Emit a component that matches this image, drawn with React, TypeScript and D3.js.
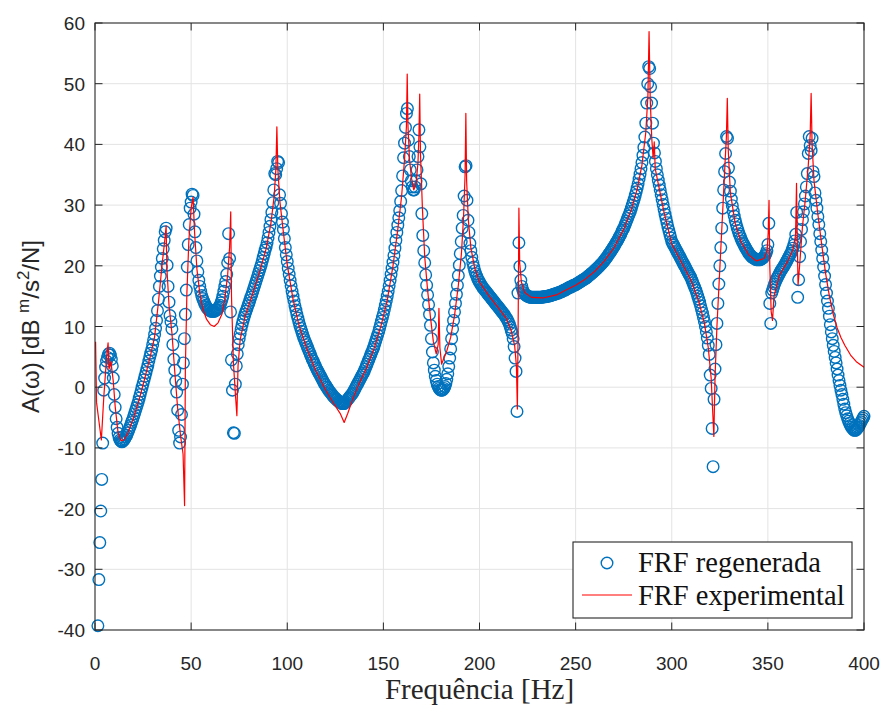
import { useEffect, useRef } from 'react';
import * as d3 from 'd3';

// eixos
const xTicks = [0, 50, 100, 150, 200, 250, 300, 350, 400];
const yTicks = [-40, -30, -20, -10, 0, 10, 20, 30, 40, 50, 60];

// FRF regenerada: amostras a cada 0.5 Hz a partir de 0 Hz (null = fora do gráfico)
const regenStartHz = 0;
const regenStepHz = 0.5;
const regenDb: (number | null)[] = [
  null, null, null, -39.3, -31.7, -25.6, -20.4, -15.2, -9.2, -0.5, 1.5, 3.3, 4.3, 4.9, 5.4, 5.6, 5.3, 4.6, 3.5, 1.5,
  -1.2, -3.3, -5.2, -6.6, -7.6, -8.3, -8.7, -8.9, -9.0, -8.9, -8.7, -8.5, -8.2, -7.9, -7.5, -7.1, -6.7, -6.3, -5.8, -5.4,
  -4.9, -4.4, -3.9, -3.4, -2.9, -2.4, -1.8, -1.2, -0.6, 0.0, 0.6, 1.2, 1.8, 2.4, 3.0, 3.6, 4.3, 5.0, 5.6, 6.2,
  7.0, 7.8, 8.7, 9.7, 11.0, 12.6, 14.5, 16.6, 18.3, 19.8, 21.2, 22.8, 24.2, 25.6, 26.2, 20.1, 16.6, 14.0, 11.8, 10.8,
  9.6, 7.0, 4.6, 2.8, 1.0, -0.8, -3.8, -7.1, -9.2, -8.2, -4.5, 0.5, 4.0, 8.0, 12.0, 16.0, 19.8, 23.5, 26.8, 29.5,
  30.5, 31.8, 31.6, 28.5, 25.6, 23.0, 20.8, 19.0, 17.6, 16.6, 15.8, 15.1, 14.6, 14.2, 13.8, 13.5, 13.2, 13.0, 12.8, 12.7,
  12.6, 12.5, 12.5, 12.5, 12.5, 12.6, 12.7, 12.8, 13.0, 13.2, 13.5, 13.9, 14.4, 15.0, 15.8, 16.6, 17.4, 18.6, 20.5, 25.3,
  21.2, 12.4, 4.5, -0.5, -7.5, -7.6, 0.5, 3.5, 5.5, 7.0, 8.0, 8.8, 9.6, 10.3, 10.9, 11.5, 12.0, 12.5, 12.9, 13.4,
  13.8, 14.3, 14.8, 15.2, 15.7, 16.2, 16.7, 17.2, 17.7, 18.2, 18.7, 19.2, 19.7, 20.2, 20.8, 21.4, 22.0, 22.6, 23.1, 23.8,
  24.6, 25.5, 26.5, 27.6, 28.8, 30.4, 32.5, 35.2, 35.0, 36.0, 37.2, 37.0, 31.7, 30.3, 28.6, 27.2, 26.0, 24.5, 23.0, 21.8,
  20.7, 19.6, 18.6, 17.6, 16.7, 15.8, 15.0, 14.2, 13.4, 12.7, 12.0, 11.4, 10.8, 10.2, 9.7, 9.2, 8.7, 8.2, 7.8, 7.4,
  7.0, 6.6, 6.2, 5.8, 5.4, 5.0, 4.6, 4.3, 3.9, 3.6, 3.2, 2.9, 2.6, 2.3, 2.0, 1.7, 1.4, 1.1, 0.8, 0.5,
  0.3, 0.0, -0.2, -0.5, -0.7, -0.9, -1.1, -1.3, -1.5, -1.7, -1.8, -2.0, -2.1, -2.3, -2.4, -2.5, -2.6, -2.7, -2.7, -2.7,
  -2.6, -2.4, -2.2, -2.0, -1.8, -1.6, -1.4, -1.2, -1.0, -0.7, -0.4, -0.1, 0.2, 0.5, 0.8, 1.1, 1.4, 1.7, 2.0, 2.3,
  2.6, 3.0, 3.4, 3.8, 4.2, 4.6, 5.0, 5.4, 5.8, 6.2, 6.6, 7.1, 7.6, 8.1, 8.6, 9.1, 9.7, 10.3, 10.9, 11.5,
  12.1, 12.8, 13.5, 14.2, 15.0, 15.8, 16.7, 17.6, 18.6, 19.6, 20.6, 21.7, 22.9, 24.2, 25.5, 26.7, 27.9, 29.1, 30.6, 32.4,
  34.8, 37.8, 40.2, 42.8, 45.1, 45.9, 40.7, 38.0, 35.8, 34.0, 33.0, 32.5, 32.5, 33.0, 34.0, 35.8, 38.0, 42.4, 39.6, 33.5,
  28.6, 25.0, 22.5, 20.5, 18.5, 16.8, 15.2, 13.6, 12.0, 10.2, 8.0, 5.8, 4.0, 2.8, 1.8, 1.1, 0.5, 0.1, -0.2, -0.4,
  -0.5, -0.5, -0.4, -0.2, 0.1, 0.6, 1.3, 2.2, 3.4, 4.8, 6.3, 8.0, 9.6, 11.0, 12.4, 13.8, 15.3, 16.8, 18.4, 20.1,
  22.0, 24.0, 26.2, 28.3, 31.5, 36.3, 36.5, 30.8, 27.5, 25.5, 23.7, 22.5, 21.4, 20.5, 19.8, 19.2, 18.7, 18.3, 17.9, 17.6,
  17.3, 17.0, 16.8, 16.5, 16.3, 16.1, 15.9, 15.7, 15.5, 15.3, 15.1, 14.9, 14.7, 14.5, 14.3, 14.1, 13.9, 13.7, 13.5, 13.3,
  13.1, 12.9, 12.7, 12.5, 12.3, 12.1, 11.9, 11.6, 11.4, 11.1, 10.8, 10.4, 9.9, 9.4, 8.9, 8.0, 6.7, 4.8, 2.6, -4.0,
  15.5, 23.8, 19.9, 17.6, 16.6, 16.0, 15.6, 15.4, 15.2, 15.1, 15.0, 14.9, 14.9, 14.8, 14.8, 14.8, 14.8, 14.8, 14.8, 14.8,
  14.8, 14.8, 14.8, 14.8, 14.8, 14.8, 14.9, 14.9, 14.9, 14.9, 15.0, 15.0, 15.0, 15.1, 15.1, 15.2, 15.2, 15.3, 15.3, 15.4,
  15.4, 15.5, 15.5, 15.6, 15.7, 15.7, 15.8, 15.9, 16.0, 16.0, 16.1, 16.2, 16.3, 16.4, 16.5, 16.5, 16.6, 16.7, 16.8, 16.8,
  16.9, 17.0, 17.1, 17.2, 17.3, 17.4, 17.5, 17.6, 17.7, 17.8, 17.9, 18.0, 18.1, 18.3, 18.4, 18.5, 18.7, 18.8, 18.9, 19.1,
  19.2, 19.4, 19.5, 19.7, 19.8, 20.0, 20.2, 20.3, 20.5, 20.7, 20.9, 21.1, 21.3, 21.5, 21.8, 22.0, 22.2, 22.5, 22.7, 23.0,
  23.2, 23.5, 23.8, 24.0, 24.3, 24.6, 24.9, 25.2, 25.6, 25.9, 26.2, 26.6, 27.0, 27.4, 27.8, 28.2, 28.6, 29.0, 29.5, 30.0,
  30.5, 31.0, 31.6, 32.2, 32.8, 33.5, 34.3, 35.1, 36.0, 37.0, 38.2, 39.5, 41.2, 43.5, 46.8, 50.0, 52.8, 52.5, 49.5, 46.8,
  43.5, 40.2, 38.6, 37.2, 36.0, 35.0, 34.1, 33.3, 32.5, 31.7, 30.9, 30.1, 29.3, 28.5, 27.8, 27.1, 26.4, 25.8, 25.2, 24.6,
  24.0, 23.7, 23.4, 23.1, 22.8, 22.5, 22.2, 21.9, 21.6, 21.3, 21.0, 20.7, 20.4, 20.1, 19.8, 19.5, 19.2, 18.9, 18.6, 18.3,
  18.0, 17.6, 17.2, 16.8, 16.4, 16.0, 15.5, 15.0, 14.5, 14.0, 13.4, 12.8, 12.2, 11.5, 10.8, 10.0, 9.1, 8.1, 6.9, 5.4,
  2.0, -0.2, -6.8, -13.1, -2.0, 3.0, 7.0, 10.5, 13.8, 17.0, 20.0, 23.0, 26.2, 29.5, 32.5, 35.5, 38.5, 41.3, 41.0, 36.1,
  33.8, 32.3, 31.0, 29.9, 29.0, 28.2, 27.5, 26.9, 26.3, 25.8, 25.3, 24.9, 24.5, 24.1, 23.8, 23.5, 23.2, 22.9, 22.6, 22.4,
  22.1, 21.9, 21.7, 21.5, 21.4, 21.3, 21.2, 21.1, 21.0, 21.0, 21.0, 21.0, 21.0, 21.1, 21.2, 21.3, 21.5, 21.7, 22.0, 22.5,
  23.5, 27.0, 13.8, 10.5, 15.5, 16.0, 16.5, 17.0, 17.4, 17.8, 18.1, 18.4, 18.7, 19.0, 19.3, 19.5, 19.8, 20.0, 20.3, 20.6,
  20.9, 21.2, 21.5, 21.8, 22.1, 22.5, 22.9, 23.4, 24.1, 25.2, 28.8, 14.8, 17.7, 21.5, 24.0, 26.0, 27.6, 28.9, 30.2, 31.5,
  33.0, 35.2, 38.5, 41.3, 39.8, 39.0, 41.0, 35.5, 34.7, 32.0, 30.8, 29.5, 28.1, 26.8, 25.3, 24.0, 22.6, 21.2, 19.8, 18.3,
  16.9, 15.5, 14.2, 13.0, 11.7, 10.3, 9.1, 8.0, 6.9, 5.9, 4.9, 4.0, 3.0, 2.0, 1.1, 0.3, -0.5, -1.2, -2.0, -2.8,
  -3.6, -4.2, -4.7, -5.2, -5.6, -6.0, -6.3, -6.6, -6.8, -7.0, -7.1, -7.1, -7.0, -6.8, -6.6, -6.3, -6.0, -5.7, -5.4, -5.1,
  -4.8,
];

// FRF experimental: vértices [Hz, dB]
const expPoints: [number, number][] = [
  [0.3, 7.5], [0.8, -2.5], [1.6, -4.5], [3.3, -8.7], [4.6, -1.5], [6.0, 4.8], [6.8, 7.3], [7.3, 3.0],
  [8.3, 4.2], [9.5, 1.0], [10.5, -3.2], [12.0, -7.5], [13.5, -8.8], [15, -8.7], [17, -7.6], [20, -5.1],
  [23, -2.0], [26, 1.6], [29, 5.4], [31, 8.3], [33, 14.0], [35, 20.5], [36.5, 24.8], [37.0, 26.6],
  [37.4, 19.5], [38.5, 13.5], [40, 9.0], [41.5, 2.5], [43, -3.5], [44.5, -8.0], [45.8, -11.0], [46.6, -19.5],
  [47.0, 3.0], [47.8, 15.5], [48.8, 24.0], [50, 29.5], [51.0, 31.3], [51.8, 25.5], [53, 19.5], [54.5, 15.5],
  [56, 13.0], [58, 11.2], [60, 10.3], [62, 10.0], [64, 10.6], [66, 12.0], [67.5, 14.5], [69, 18.5],
  [70.0, 23.0], [70.6, 28.9], [71.0, 15.0], [72.0, 4.0], [73.0, -1.0], [73.8, -4.7], [74.4, 3.5], [75.5, 7.8],
  [78, 11.6], [82, 15.4], [86, 19.4], [89, 22.8], [91.5, 27.0], [93.2, 31.5], [94.1, 36.0], [94.6, 42.9],
  [95.1, 36.0], [96.2, 30.5], [98, 25.5], [100, 20.2], [103, 14.5], [106, 10.3], [110, 6.5], [115, 2.6],
  [120, -0.5], [124, -2.6], [127.5, -4.3], [129.6, -5.8], [131.5, -4.3], [134, -2.0], [137, 0.3], [141, 3.0],
  [145, 6.2], [149, 10.4], [152, 14.3], [155, 20.0], [157.5, 26.0], [159.5, 31.5], [161.0, 37.5], [162.0, 43.0],
  [162.4, 51.6], [162.8, 43.0], [163.6, 37.5], [164.6, 34.5], [165.8, 32.5], [167, 33.5], [168.0, 37.0], [168.5, 41.5],
  [168.9, 48.3], [169.3, 38.5], [170.3, 29.5], [171.5, 21.5], [173, 16.0], [174.5, 11.5], [176, 7.5], [177.5, 5.5],
  [178.5, 7.0], [178.9, 13.0], [179.4, 6.5], [180.3, 3.8], [181.5, 4.8], [183, 6.0], [185, 8.2], [187, 11.8],
  [189, 16.8], [190.6, 22.0], [191.7, 28.0], [192.5, 35.0], [192.9, 45.1], [193.3, 34.0], [194.2, 27.5], [195.5, 23.0],
  [197.5, 19.6], [200, 17.3], [205, 15.0], [210, 13.0], [214, 11.3], [216.5, 9.3], [218.3, 6.8], [219.2, 3.5],
  [219.7, -3.6], [220.1, 10.0], [220.5, 29.5], [220.9, 20.5], [221.8, 17.3], [223.5, 15.6], [227, 14.8], [233, 14.7],
  [240, 15.2], [245, 16.0], [250, 16.8], [255, 17.8], [260, 19.1], [265, 20.8], [270, 23.0], [275, 26.0],
  [279, 29.3], [282, 32.6], [284.5, 36.6], [286.5, 42.0], [287.6, 48.0], [288.2, 58.6], [288.8, 47.5], [289.6, 41.0],
  [290.3, 37.8], [290.9, 40.4], [291.4, 36.0], [293, 33.5], [296, 28.8], [300, 23.6], [305, 20.6], [310, 17.6],
  [314, 14.2], [317, 10.5], [319, 6.5], [320.5, 1.5], [321.9, -8.1], [322.5, 1.5], [323.5, 10.0], [325, 19.5],
  [326.5, 29.0], [327.8, 37.5], [328.4, 41.0], [328.9, 47.6], [329.4, 39.0], [330.5, 32.0], [333, 27.0], [336, 24.0],
  [340, 21.8], [344, 20.8], [348, 21.2], [349.6, 22.5], [350.2, 25.5], [350.6, 30.8], [351.0, 20.0], [351.7, 12.5],
  [352.4, 11.0], [353.2, 15.0], [356, 18.4], [360, 20.6], [363, 22.6], [364.4, 25.0], [364.9, 33.6], [365.3, 24.0],
  [365.7, 16.8], [366.5, 20.0], [368, 26.5], [369.5, 31.0], [371, 36.5], [372.0, 41.5], [372.5, 48.4], [373.0, 40.0],
  [374.0, 34.0], [376, 28.5], [378, 23.5], [380, 18.8], [382, 15.0], [384, 12.0], [386, 9.8], [388, 8.2],
  [390, 6.9], [393, 5.3], [396, 4.2], [400, 3.3],
];

const legendLabels = ['FRF regenerada', 'FRF experimental'];

const BLUE = '#0072BD';
const RED = '#FF0000';
const AXIS = '#262626';
const SANS = '"Liberation Sans", Arial, Helvetica, sans-serif';
const SERIF = '"Liberation Serif", "Times New Roman", Times, serif';

function FrfChart() {
  const svgRef = useRef<SVGSVGElement>(null);

  useEffect(() => {
    const width = 885;
    const height = 706;
    const plot = { left: 95, right: 864, top: 23, bottom: 630 };

    const svg = d3.select(svgRef.current);
    svg.selectAll('*').remove();
    svg.attr('width', width).attr('height', height);

    const x = d3.scaleLinear().domain([0, 400]).range([plot.left, plot.right]);
    const y = d3.scaleLinear().domain([-40, 60]).range([plot.bottom, plot.top]);

    svg.append('rect')
      .attr('width', width).attr('height', height)
      .attr('fill', 'white');

    svg.append('defs').append('clipPath').attr('id', 'plot-clip')
      .append('rect')
      .attr('x', plot.left).attr('y', plot.top)
      .attr('width', plot.right - plot.left).attr('height', plot.bottom - plot.top);

    // grade
    const grid = svg.append('g').attr('stroke', '#e3e3e3').attr('stroke-width', 1);
    xTicks.slice(1, -1).forEach(t => {
      grid.append('line')
        .attr('x1', x(t)).attr('x2', x(t))
        .attr('y1', plot.top).attr('y2', plot.bottom);
    });
    yTicks.slice(1, -1).forEach(t => {
      grid.append('line')
        .attr('x1', plot.left).attr('x2', plot.right)
        .attr('y1', y(t)).attr('y2', y(t));
    });

    // FRF regenerada (círculos)
    const regen = regenDb
      .map((v, i) => ({ f: regenStartHz + i * regenStepHz, v }))
      .filter(d => d.v !== null) as { f: number; v: number }[];

    svg.append('g')
      .selectAll('circle')
      .data(regen)
      .join('circle')
        .attr('cx', d => x(d.f))
        .attr('cy', d => y(d.v))
        .attr('r', 5.8)
        .attr('fill', 'none')
        .attr('stroke', BLUE)
        .attr('stroke-width', 1.4);

    // FRF experimental (linha)
    const line = d3.line<[number, number]>()
      .x(d => x(d[0]))
      .y(d => y(d[1]));

    svg.append('path')
      .datum(expPoints)
      .attr('clip-path', 'url(#plot-clip)')
      .attr('d', line)
      .attr('fill', 'none')
      .attr('stroke', RED)
      .attr('stroke-width', 1.2)
      .attr('stroke-linejoin', 'round');

    // caixa dos eixos + ticks
    const axes = svg.append('g');
    axes.append('rect')
      .attr('x', plot.left).attr('y', plot.top)
      .attr('width', plot.right - plot.left).attr('height', plot.bottom - plot.top)
      .attr('fill', 'none').attr('stroke', AXIS).attr('stroke-width', 1.1);

    const tickLen = 7.5;
    xTicks.forEach(t => {
      axes.append('line')
        .attr('x1', x(t)).attr('x2', x(t))
        .attr('y1', plot.bottom).attr('y2', plot.bottom - tickLen)
        .attr('stroke', AXIS);
      axes.append('line')
        .attr('x1', x(t)).attr('x2', x(t))
        .attr('y1', plot.top).attr('y2', plot.top + tickLen)
        .attr('stroke', AXIS);
      axes.append('text')
        .attr('x', x(t)).attr('y', plot.bottom + 40)
        .attr('text-anchor', 'middle')
        .attr('font-family', SANS).attr('font-size', 19)
        .attr('fill', AXIS)
        .text(t);
    });
    yTicks.forEach(t => {
      axes.append('line')
        .attr('x1', plot.left).attr('x2', plot.left + tickLen)
        .attr('y1', y(t)).attr('y2', y(t))
        .attr('stroke', AXIS);
      axes.append('line')
        .attr('x1', plot.right).attr('x2', plot.right - tickLen)
        .attr('y1', y(t)).attr('y2', y(t))
        .attr('stroke', AXIS);
      axes.append('text')
        .attr('x', plot.left - 10).attr('y', y(t) + 7)
        .attr('text-anchor', 'end')
        .attr('font-family', SANS).attr('font-size', 19)
        .attr('fill', AXIS)
        .text(t);
    });

    // rótulos
    svg.append('text')
      .attr('x', (plot.left + plot.right) / 2).attr('y', 699)
      .attr('text-anchor', 'middle')
      .attr('font-family', SERIF).attr('font-size', 29)
      .attr('fill', AXIS)
      .text('Frequência [Hz]');

    const yLabel = svg.append('text')
      .attr('transform', `translate(39,${(plot.top + plot.bottom) / 2}) rotate(-90)`)
      .attr('text-anchor', 'middle')
      .attr('font-family', SANS).attr('font-size', 24)
      .attr('fill', AXIS);
    yLabel.append('tspan').text('A(ω) [dB ');
    yLabel.append('tspan').attr('font-size', 17).attr('dy', -10).text('m');
    yLabel.append('tspan').attr('dy', 10).text('/s');
    yLabel.append('tspan').attr('font-size', 17).attr('dy', -10).text('2');
    yLabel.append('tspan').attr('dy', 10).text('/N]');

    // legenda
    const legend = svg.append('g');
    legend.append('rect')
      .attr('x', 573).attr('y', 542)
      .attr('width', 279).attr('height', 76)
      .attr('fill', 'white').attr('stroke', AXIS).attr('stroke-width', 1.1);
    legend.append('circle')
      .attr('cx', 607).attr('cy', 563).attr('r', 5.8)
      .attr('fill', 'none').attr('stroke', BLUE).attr('stroke-width', 1.4);
    legend.append('line')
      .attr('x1', 582).attr('x2', 632).attr('y1', 595).attr('y2', 595)
      .attr('stroke', RED).attr('stroke-width', 1.2);
    legendLabels.forEach((label, i) => {
      legend.append('text')
        .attr('x', 638).attr('y', 572 + i * 33)
        .attr('font-family', SERIF).attr('font-size', 28.5)
        .attr('fill', '#111')
        .text(label);
    });
  }, []);

  return <svg ref={svgRef}></svg>;
}

export default function App() {
  return (
    <div style={{ position: 'absolute', left: 0, top: 0 }}>
      <FrfChart />
    </div>
  );
}
